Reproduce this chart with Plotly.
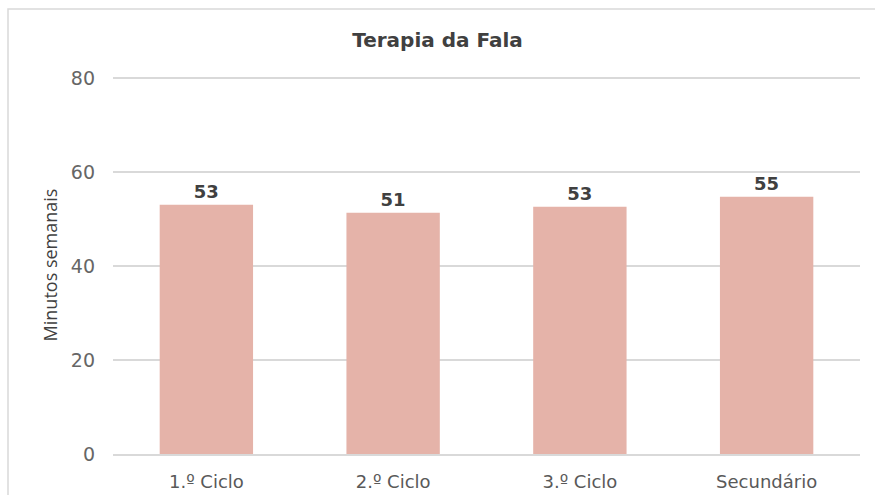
import plotly.graph_objects as go

# Data
categories = ["1.º Ciclo", "2.º Ciclo", "3.º Ciclo", "Secundário"]
minutes = [53.0, 51.3, 52.6, 54.7]
y_ticks = [0, 20, 40, 60, 80]

bar_color = "#E5B3A9"

fig = go.Figure()
fig.add_trace(
    go.Bar(
        x=categories,
        y=minutes,
        marker=dict(color=bar_color, line=dict(width=0)),
        width=0.5,
        texttemplate="%{y:.0f}",
        textposition="outside",
        textfont=dict(family="DejaVu Sans", size=18, color="#404040", weight="bold"),
        cliponaxis=False,
        hoverinfo="x+y",
    )
)

# plot area: x 113..860 px, y 76..454 px
fig.update_layout(
    width=875,
    height=495,
    margin=dict(l=113, r=15, t=76, b=41),
    paper_bgcolor="white",
    plot_bgcolor="white",
    showlegend=False,
    title=dict(
        text="<b>Terapia da Fala</b>",
        x=0.5,
        xanchor="center",
        y=1 - 40 / 495,
        yanchor="middle",
        font=dict(family="DejaVu Sans", size=20, color="#404040"),
    ),
)

fig.update_xaxes(
    automargin=False,
    showgrid=False,
    showline=True,
    linecolor="#D9D9D9",
    linewidth=1.5,
    ticks="",
    ticklabelstandoff=11,
    tickfont=dict(family="DejaVu Sans", size=18, color="#595959"),
)

fig.update_yaxes(
    automargin=False,
    range=[0, 80.4],
    tickvals=y_ticks,
    showgrid=True,
    gridcolor="#D9D9D9",
    gridwidth=1.5,
    zeroline=False,
    showline=False,
    ticks="",
    ticklabelstandoff=17,
    tickfont=dict(family="DejaVu Sans", size=19, color="#666666"),
    title=dict(
        text="Minutos semanais",
        font=dict(family="Open Sans", size=18, color="#404040"),
        standoff=8,
    ),
)

# outer chart border
fig.add_shape(
    type="rect",
    xref="paper", yref="paper",
    x0=(8 - 113) / 747, x1=(890 - 113) / 747,
    y0=(454 - 510) / 378, y1=(454 - 9) / 378,
    line=dict(color="#D9D9D9", width=1.5),
    fillcolor="rgba(0,0,0,0)",
    layer="below",
)

fig.write_html(
    "out.html",
    config={"displayModeBar": False},
    post_script="document.body.style.margin='0px';",
)
